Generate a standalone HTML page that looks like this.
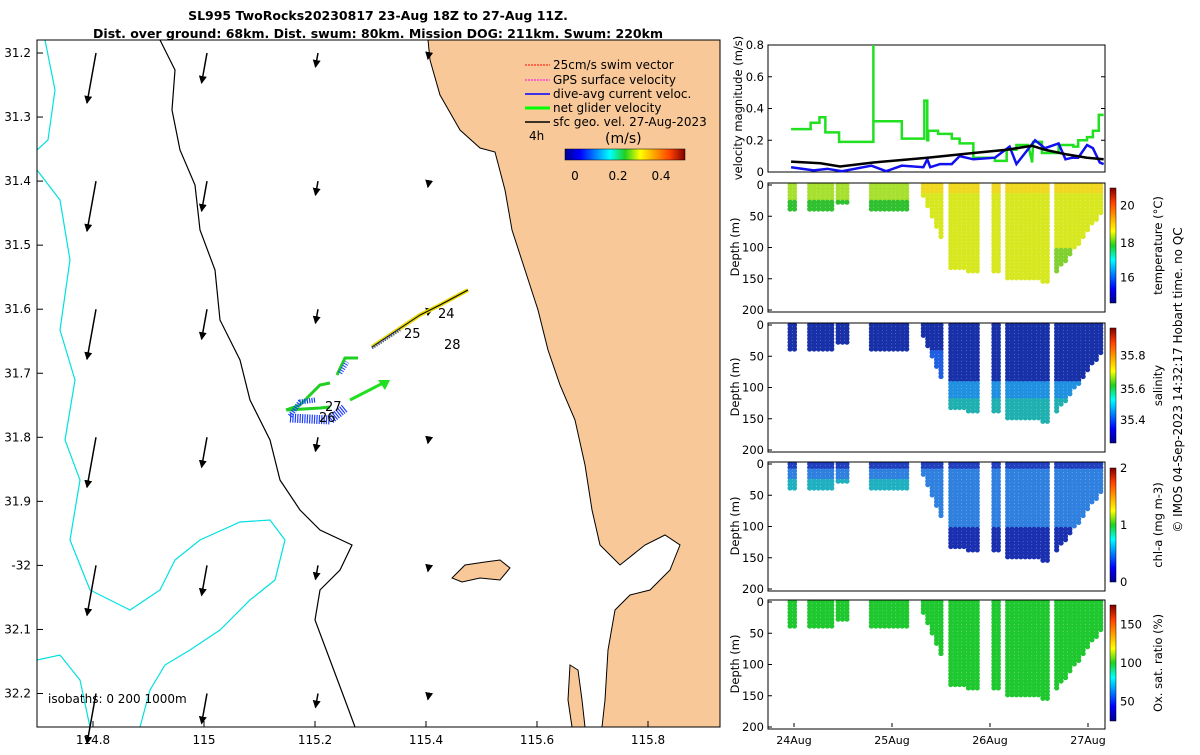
<!DOCTYPE html>
<html><head><meta charset="utf-8"><style>
body{margin:0;background:#fff;width:1200px;height:750px;overflow:hidden;font-family:"Liberation Sans","DejaVu Sans",sans-serif}
svg text{font-family:"DejaVu Sans","Liberation Sans",sans-serif}
</style></head><body>
<svg id="fig" width="1200" height="750" viewBox="0 0 1200 750" xmlns="http://www.w3.org/2000/svg">
<defs>
<linearGradient id="jetH" x1="0" x2="1" y1="0" y2="0">
<stop offset="0" stop-color="#00008f"/><stop offset="0.125" stop-color="#0000ff"/><stop offset="0.375" stop-color="#00ffff"/><stop offset="0.5" stop-color="#20d020"/><stop offset="0.625" stop-color="#ffff00"/><stop offset="0.875" stop-color="#ff4000"/><stop offset="1" stop-color="#800000"/>
</linearGradient>
<linearGradient id="jetV" x1="0" x2="0" y1="1" y2="0">
<stop offset="0" stop-color="#00008f"/><stop offset="0.125" stop-color="#0000ff"/><stop offset="0.375" stop-color="#00ffff"/><stop offset="0.5" stop-color="#20d020"/><stop offset="0.625" stop-color="#ffff00"/><stop offset="0.875" stop-color="#ff4000"/><stop offset="1" stop-color="#800000"/>
</linearGradient>
<marker id="ah" markerWidth="8" markerHeight="8" refX="7" refY="4" orient="auto" markerUnits="userSpaceOnUse"><path d="M0,0L8,4L0,8Z" fill="#000"/></marker>
</defs>
<g>
<clipPath id="mapclip"><rect x="37" y="40" width="683" height="687"/></clipPath>
<g clip-path="url(#mapclip)">
<path fill="#f8c898" d="M428,40 L430,60 L440,95 L460,130 L480,148 L495,152 L505,190 L512,230 L525,270 L538,310 L548,350 L560,385 L575,420 L585,465 L592,510 L600,545 L620,565 L645,545 L665,535 L680,545 L670,570 L650,590 L630,595 L615,610 L608,650 L605,700 L602,727 L720,727 L720,40Z"/>
<path fill="none" stroke="#000" stroke-width="1" d="M428,40 L430,60 L440,95 L460,130 L480,148 L495,152 L505,190 L512,230 L525,270 L538,310 L548,350 L560,385 L575,420 L585,465 L592,510 L600,545 L620,565 L645,545 L665,535 L680,545 L670,570 L650,590 L630,595 L615,610 L608,650 L605,700 L602,727"/>
<path fill="#f8c898" stroke="#000" d="M452,578 L465,565 L485,562 L500,560 L510,568 L500,580 L480,578 L462,582Z"/>
<path fill="#f8c898" stroke="#000" d="M570,665 L578,670 L582,700 L585,727 L572,727 L568,700Z"/>
<path fill="none" stroke="#000" stroke-width="1.2" d="M160,40 L175,70 L172,110 L180,150 L195,185 L200,230 L215,270 L220,320 L240,360 L250,400 L270,440 L280,480 L300,510 L320,530 L352,545 L340,570 L320,590 L315,620 L330,660 L345,700 L355,727"/>
<path fill="none" stroke="#00e0e0" stroke-width="1.2" d="M45,40 L55,90 L48,140 L37,150 M37,170 L60,200 L70,260 L60,330 L75,380 L65,440 L80,480 L70,540 L90,590 L130,610 L160,590 L175,560 L200,540 L240,522 L270,520 L285,540 L275,580 L250,600 L220,630 L190,650 L165,665 L150,690 L140,727 M37,660 L60,655 L80,680 L90,727"/>
</g>
<rect x="37" y="40" width="683" height="687" fill="none" stroke="#000"/>
<g id="mapArrows"></g>
<g>
<path d="M372,347 L420,315 L440,305 L468,290" stroke="#e8d800" stroke-width="4" fill="none"/>
<path d="M372,347 L420,315 L440,305 L468,290" stroke="#000" stroke-width="1" fill="none"/>
<path d="M372,348 L400,330" stroke="#2040ff" stroke-width="3" fill="none" stroke-dasharray="1,1.5"/>
<path d="M337,375 L345,358 L358,358" stroke="#20d020" stroke-width="3" fill="none"/>
<path d="M340,373 L347,362" stroke="#2040ff" stroke-width="5" fill="none" stroke-dasharray="1,1.5"/>
<path d="M286,410 L300,405 L320,385 L330,383" stroke="#20d020" stroke-width="3" fill="none"/>
<path d="M287,410 L320,408 L330,407" stroke="#20d020" stroke-width="3" fill="none"/>
<path d="M290,416 L300,402 L315,400" stroke="#1040ff" stroke-width="5" fill="none" stroke-dasharray="1.2,1.2"/>
<path d="M290,418 L330,420 L345,408" stroke="#2040ff" stroke-width="9" fill="none" stroke-dasharray="1.2,1.2"/>
<line x1="350" y1="400" x2="385" y2="382" stroke="#20e020" stroke-width="3"/>
<path d="M390,380 L378,380 L385,390Z" fill="#20e020"/>
<text x="438" y="318" font-size="13">24</text><text x="404" y="338" font-size="13">25</text><text x="444" y="349" font-size="13">28</text><text x="325" y="411" font-size="13">27</text><text x="319" y="422" font-size="13">26</text>
</g>
<g font-size="12">
<line x1="525" y1="65" x2="550" y2="65" stroke="#f00" stroke-dasharray="2,1"/><text x="553" y="69">25cm/s swim vector</text>
<line x1="525" y1="80" x2="550" y2="80" stroke="#f0f" stroke-dasharray="2,1"/><text x="553" y="84">GPS surface velocity</text>
<line x1="525" y1="94" x2="550" y2="94" stroke="#00f" stroke-width="1.5"/><text x="553" y="98">dive-avg current veloc.</text>
<line x1="525" y1="108" x2="550" y2="108" stroke="#0f0" stroke-width="3"/><text x="553" y="112">net glider velocity</text>
<line x1="525" y1="122" x2="550" y2="122" stroke="#000" stroke-width="1.5"/><text x="553" y="126">sfc geo. vel. 27-Aug-2023</text>
<text x="529" y="140">4h</text><text x="605" y="143" font-size="14">(m/s)</text>
<rect x="565" y="149" width="120" height="11" fill="url(#jetH)" stroke="#000" stroke-width="0.5"/>
<text x="575" y="180" text-anchor="middle">0</text><text x="618" y="180" text-anchor="middle">0.2</text><text x="661" y="180" text-anchor="middle">0.4</text>
</g>
<text x="48" y="703" font-size="12">isobaths: 0   200  1000m</text>
<g id="mapTicks" font-size="12"></g>
</g>
<text x="378" y="20" font-size="12.5" font-weight="bold" text-anchor="middle">SL995 TwoRocks20230817 23-Aug 18Z to 27-Aug 11Z.</text>
<text x="378" y="38" font-size="12.5" font-weight="bold" text-anchor="middle">Dist. over ground: 68km. Dist. swum: 80km. Mission DOG: 211km. Swum: 220km</text>
<g id="right" font-size="11.5"></g>
<text transform="translate(1182,380) rotate(-90)" font-size="12" text-anchor="middle">© IMOS 04-Sep-2023 14:32:17 Hobart time. no QC</text>
</svg>
<script>
// velocity series (time in days of Aug, value m/s)
const greenT=[23.97,24.17,24.17,24.26,24.26,24.32,24.32,24.46,24.46,24.81,24.81,24.81,25.10,25.10,25.33,25.33,25.36,25.36,25.37,25.37,25.47,25.47,25.61,25.61,25.69,25.69,25.83,25.83,26.05,26.05,26.17,26.17,26.27,26.27,26.39,26.43,26.44,26.53,26.53,26.70,26.70,26.85,26.85,26.90,26.90,26.99,26.99,27.05,27.05,27.11,27.11,27.16];
const greenV=[0.27,0.27,0.31,0.31,0.345,0.345,0.25,0.25,0.19,0.19,0.8,0.32,0.32,0.21,0.21,0.45,0.45,0.2,0.2,0.26,0.26,0.24,0.24,0.21,0.21,0.18,0.18,0.09,0.09,0.07,0.07,0.14,0.14,0.17,0.17,0.06,0.19,0.19,0.12,0.12,0.17,0.17,0.16,0.16,0.2,0.2,0.22,0.22,0.26,0.26,0.36,0.36];
const blueT=[23.97,24.2,24.34,24.49,24.79,24.94,25.10,25.32,25.36,25.39,25.49,25.61,25.69,25.83,26.05,26.20,26.27,26.46,26.56,26.70,26.77,26.84,26.90,26.99,27.05,27.12,27.16];
const blueV=[0.03,0.01,0.02,0.005,0.04,0.005,0.04,0.03,0.08,0.03,0.05,0.05,0.1,0.08,0.09,0.16,0.05,0.2,0.15,0.18,0.08,0.09,0.09,0.17,0.15,0.06,0.05];
const blackT=[23.97,24.27,24.47,24.81,25.36,25.83,26.17,26.43,26.56,26.79,26.99,27.16];
const blackV=[0.065,0.055,0.035,0.06,0.09,0.12,0.14,0.165,0.14,0.11,0.09,0.08];
// profile segments: start day, end day, max depth at start, max depth at end
const segStart=[23.96,24.16,24.45,24.79,25.32,25.60,26.04,26.18,26.68];
const segEnd=[24.04,24.40,24.55,25.19,25.52,25.90,26.11,26.61,27.14];
const segDepth0=[42,40,32,43,20,135,140,150,140];
const segDepth1=[42,40,32,43,95,140,140,155,45];
const dayTicks=[24,25,26,27];
const velTicks=[0,0.2,0.4,0.6,0.8];
const depthTicks=[0,50,100,150,200];
const lonTicks=[114.8,115,115.2,115.4,115.6,115.8];
const latTicks=[31.2,31.3,31.4,31.5,31.6,31.7,31.8,31.9,32,32.1,32.2];
const latLabels=['31.2','31.3','31.4','31.5','31.6','31.7','31.8','31.9','-32','32.1','32.2'];
const arrLon=[114.8,115,115.2,115.4];
const arrLat=[31.2,31.4,31.6,31.8,32.0,32.2];
const arrLen=[50,30,14,6];

const NS='http://www.w3.org/2000/svg';
function mk(tag,at,parent){const e=document.createElementNS(NS,tag);for(const k in at)e.setAttribute(k,at[k]);parent.appendChild(e);return e;}
const mx=l=>93+(l-114.8)*555, my=la=>53+(la-31.2)*640.5;
const mt=document.getElementById('mapTicks');
lonTicks.forEach(l=>{const x=mx(l);mk('line',{x1:x,y1:727,x2:x,y2:721,stroke:'#000'},mt);const t=mk('text',{x:x,y:744,'text-anchor':'middle'},mt);t.textContent=String(l);

});
latTicks.forEach((la,i)=>{const y=my(la);mk('line',{x1:37,y1:y,x2:43,y2:y,stroke:'#000'},mt);const t=mk('text',{x:31,y:y+4,'text-anchor':'end'},mt);t.textContent=latLabels[i];

});
const ma=document.getElementById('mapArrows');
arrLon.forEach((lo,i)=>arrLat.forEach(la=>{const x=mx(lo),y=my(la);const L=arrLen[i];const a=mk('line',{x1:x+3,y1:y,x2:x+3-L*0.18,y2:y+L,stroke:'#000','stroke-width':1.5,'marker-end':'url(#ah)'},ma);

}));

const R=document.getElementById('right');
const X0=768,X1=1105;
const tx=d=>794+(d-24)*98;
const vy=v=>172-v/0.8*127;
mk('rect',{x:X0,y:45,width:X1-X0,height:127,fill:'none',stroke:'#000'},R);
velTicks.forEach(v=>{mk('line',{x1:X0,y1:vy(v),x2:X0+4,y2:vy(v),stroke:'#000'},R);mk('line',{x1:X1,y1:vy(v),x2:X1-4,y2:vy(v),stroke:'#000'},R);const t=mk('text',{x:X0-4,y:vy(v)+4,'text-anchor':'end'},R);t.textContent=String(v);});
function line(T,V,col,name){const p=mk('polyline',{points:T.map((t,i)=>tx(t)+','+vy(V[i])).join(' '),fill:'none',stroke:col,'stroke-width':2.5},R);

}
line(greenT,greenV,'#20e020','net-glider-velocity-line');
line(blueT,blueV,'#1010f0','dive-avg-current-line');
line(blackT,blackV,'#000','sfc-geo-velocity-line');
const vl=mk('text',{transform:'translate(742,108) rotate(-90)','text-anchor':'middle'},R);vl.textContent='velocity magnitude (m/s)';
const panels=[
 {y0:185,name:'temperature',cb:[188,303],lab:'temperature (°C)',ticks:[[16,0.22],[18,0.52],[20,0.85]],col:(d,s)=> s<4? (d>25?'#30c030':'#a8e030'): (d>100&&s==8?'#80d030':(d<15?'#f0d820':'#d8e820'))},
 {y0:325,name:'salinity',cb:[328,443],lab:'salinity',ticks:[[35.4,0.2],[35.6,0.47],[35.8,0.76]],col:(d,s)=> s>=4&&d>90?(d>120?'#20b0b0':'#2090e0'):(s==4&&d>40?'#2060e0':'#1830a8')},
 {y0:464,name:'chl-a',cb:[468,582],lab:'chl-a (mg m-3)',ticks:[[0,0],[1,0.5],[2,1]],col:(d,s)=> d<10?'#2040c0':(d>100?'#1a30b0':(s<4&&d>25?'#20b0c0':'#3080e0'))},
 {y0:602,name:'oxygen',cb:[605,721],lab:'Ox. sat. ratio (%)',ticks:[[50,0.17],[100,0.5],[150,0.83]],col:(d,s)=>'#20c830'}
];
panels.forEach((P,pi)=>{
 const dy=d=>P.y0+d/200*125;
 const g=mk('g',{},R);
 
 
 segStart.forEach((s0,si)=>{const s1=segEnd[si];
  for(let t=s0;t<=s1+1e-6;t+=0.045){const f=(t-s0)/Math.max(s1-s0,0.01);const md=segDepth0[si]+(segDepth1[si]-segDepth0[si])*f;
   for(let d=0;d<=md;d+=5.5){mk('circle',{cx:tx(t),cy:dy(d),r:2.6,fill:P.col(d,si)},g);}}
 });
 mk('rect',{x:X0,y:P.y0-2,width:X1-X0,height:129,fill:'none',stroke:'#000'},g);
 depthTicks.forEach(d=>{mk('line',{x1:X0,y1:dy(d),x2:X0+4,y2:dy(d),stroke:'#000'},g);const t=mk('text',{x:X0-4,y:dy(d)+4,'text-anchor':'end'},g);t.textContent=String(d);});
 const yl=mk('text',{transform:`translate(739,${P.y0+62}) rotate(-90)`,'text-anchor':'middle'},g);yl.textContent='Depth (m)';
 const c=mk('rect',{x:1110,y:P.cb[0],width:6,height:P.cb[1]-P.cb[0],fill:'url(#jetV)',stroke:'#000','stroke-width':0.5},g);
 
 
 P.ticks.forEach(([v,f])=>{const y=P.cb[1]-f*(P.cb[1]-P.cb[0]);const t=mk('text',{x:1120,y:y+4},g);t.textContent=String(v);});
 const cl=mk('text',{transform:`translate(1162,${(P.cb[0]+P.cb[1])/2}) rotate(-90)`,'text-anchor':'middle'},g);cl.textContent=P.lab;
});
dayTicks.forEach(d=>{const x=tx(d);mk('line',{x1:x,y1:727,x2:x,y2:723,stroke:'#000'},R);const t=mk('text',{x:x,y:744,'text-anchor':'middle',"font-size":11},R);t.textContent=d+'Aug';

});
</script>
</body></html>
